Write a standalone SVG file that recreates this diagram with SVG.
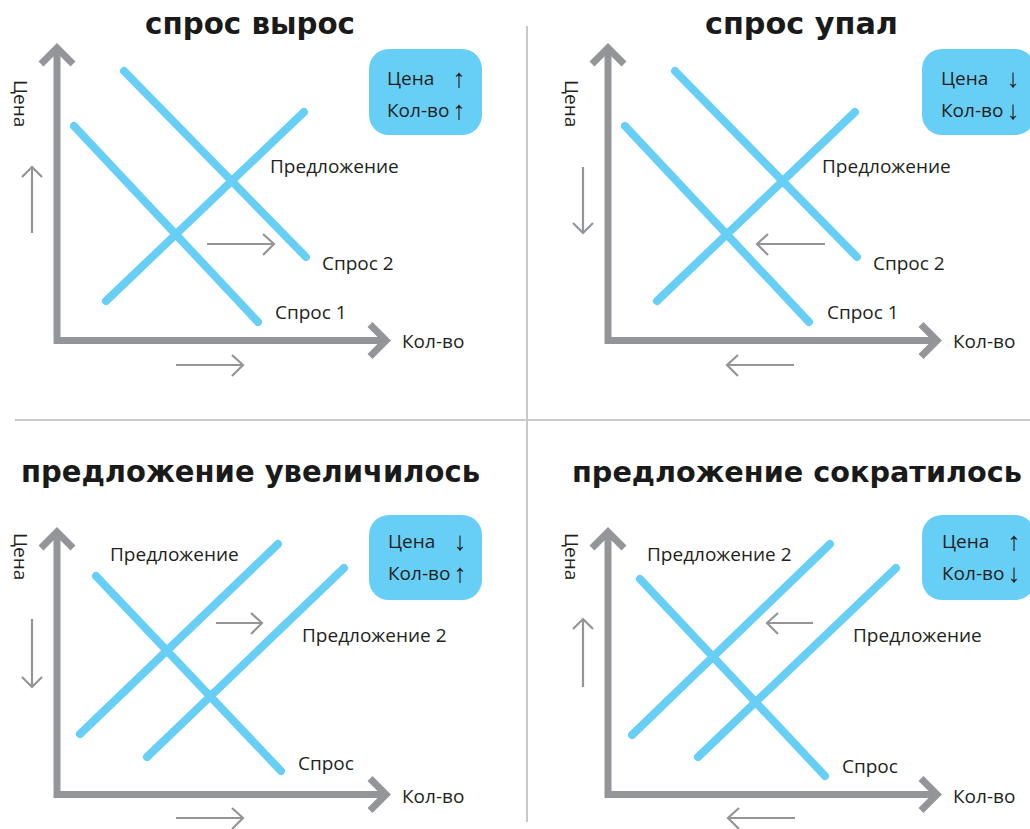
<svg xmlns="http://www.w3.org/2000/svg" width="1030" height="829" viewBox="0 0 1030 829">
<defs>
<style>
.bg{fill:#ffffff}
.div{stroke:#c8c9cb;stroke-width:2;fill:none}
.ax{stroke:#939598;stroke-width:7;fill:none;stroke-linejoin:miter;stroke-linecap:butt}
.sa{stroke:#939598;stroke-width:2.2;fill:none}
.bl{stroke:#67cef5;stroke-width:8;stroke-linecap:round;fill:none}
.box{fill:#67cef5}
.t{font-family:"Open Sans","Noto Sans",sans-serif;font-size:19px;fill:#231f20}
.ar{font-family:"Liberation Sans",sans-serif;font-size:26px;fill:#231f20;text-anchor:middle}
.ttl{font-family:"DejaVu Sans",sans-serif;font-weight:bold;font-size:30px;fill:#1a1a1a}
</style>
</defs>
<rect class="bg" x="0" y="0" width="1030" height="829"/>
<g id="dividers">
<path class="div" d="M527,26 V822"/>
<path class="div" d="M15,420 H1030"/>
</g>

<!-- Panel 1 -->
<g id="panel1">
<text class="ttl" x="145" y="34" textLength="210" lengthAdjust="spacingAndGlyphs">спрос вырос</text>
<g id="p1-axes">
<path class="ax" d="M57,48 V340.5 H386"/>
<path class="ax" d="M41,64 L57,48 L73,64"/>
<path class="ax" d="M370,324.5 L386,340.5 L370,356.5"/>
<text class="t" transform="translate(14,80) rotate(90)">Цена</text>
<text class="t" x="402" y="348">Кол-во</text>
</g>
<g id="p1-curves">
<path class="bl" d="M74,126 L258,322"/>
<path class="bl" d="M124,71 L306,257"/>
<path class="bl" d="M106,301 L304,112"/>
<text class="t" x="270" y="173">Предложение</text>
<text class="t" x="322" y="270">Спрос 2</text>
<text class="t" x="275" y="319">Спрос 1</text>
</g>
<g id="p1-shifts">
<path class="sa" d="M32,233 V167 M22,177 L32,167 L42,177"/>
<path class="sa" d="M176,365 H243 M232,355 L243,365 L232,376"/>
<path class="sa" d="M207,244 H274 M263,234 L274,244 L263,255"/>
</g>
<g id="p1-box">
<rect class="box" x="369" y="49" width="113" height="86" rx="20"/>
<text class="t" x="387" y="85">Цена</text>
<text class="t" x="387" y="117">Кол-во</text>
<text class="ar" x="459" y="87">↑</text>
<text class="ar" x="459" y="119">↑</text>
</g>
</g>

<!-- Panel 2 -->
<g id="panel2">
<text class="ttl" x="705" y="34" textLength="193" lengthAdjust="spacingAndGlyphs">спрос упал</text>
<g id="p2-axes">
<path class="ax" d="M608,48 V340.5 H937"/>
<path class="ax" d="M592,64 L608,48 L624,64"/>
<path class="ax" d="M921,324.5 L937,340.5 L921,356.5"/>
<text class="t" transform="translate(565,80) rotate(90)">Цена</text>
<text class="t" x="953" y="348">Кол-во</text>
</g>
<g id="p2-curves">
<path class="bl" d="M625,126 L809,322"/>
<path class="bl" d="M675,71 L857,257"/>
<path class="bl" d="M657,301 L855,112"/>
<text class="t" x="822" y="173">Предложение</text>
<text class="t" x="873" y="270">Спрос 2</text>
<text class="t" x="827" y="319">Спрос 1</text>
</g>
<g id="p2-shifts">
<path class="sa" d="M583,167 V233 M573,223 L583,233 L593,223"/>
<path class="sa" d="M794,365 H727 M738,355 L727,365 L738,376"/>
<path class="sa" d="M825,244 H757 M768,234 L757,244 L768,255"/>
</g>
<g id="p2-box">
<rect class="box" x="922" y="49" width="113" height="86" rx="20"/>
<text class="t" x="941" y="85">Цена</text>
<text class="t" x="941" y="117">Кол-во</text>
<text class="ar" x="1013" y="87">↓</text>
<text class="ar" x="1013" y="119">↓</text>
</g>
</g>

<!-- Panel 3 -->
<g id="panel3">
<text class="ttl" x="21" y="482" textLength="459" lengthAdjust="spacingAndGlyphs">предложение увеличилось</text>
<g id="p3-axes">
<path class="ax" d="M57,532 V794.5 H386"/>
<path class="ax" d="M41,548 L57,532 L73,548"/>
<path class="ax" d="M370,778.5 L386,794.5 L370,810.5"/>
<text class="t" transform="translate(14,533) rotate(90)">Цена</text>
<text class="t" x="402" y="803">Кол-во</text>
</g>
<g id="p3-curves">
<path class="bl" d="M96,576 L281,771"/>
<path class="bl" d="M80,734 L278,544"/>
<path class="bl" d="M147,757 L344,568"/>
<text class="t" x="110" y="561">Предложение</text>
<text class="t" x="302" y="642">Предложение 2</text>
<text class="t" x="298" y="770">Спрос</text>
</g>
<g id="p3-shifts">
<path class="sa" d="M32,619 V687 M22,677 L32,687 L42,677"/>
<path class="sa" d="M176,818 H243 M232,808 L243,818 L232,829"/>
<path class="sa" d="M216,623 H262 M251,613 L262,623 L251,634"/>
</g>
<g id="p3-box">
<rect class="box" x="369" y="515" width="113" height="85" rx="20"/>
<text class="t" x="388" y="548">Цена</text>
<text class="t" x="388" y="580">Кол-во</text>
<text class="ar" x="460" y="550">↓</text>
<text class="ar" x="460" y="582">↑</text>
</g>
</g>

<!-- Panel 4 -->
<g id="panel4">
<text class="ttl" x="572" y="482" font-size="28" textLength="450" lengthAdjust="spacingAndGlyphs" style="font-size:28px">предложение сократилось</text>
<g id="p4-axes">
<path class="ax" d="M608,532 V794.5 H937"/>
<path class="ax" d="M592,548 L608,532 L624,548"/>
<path class="ax" d="M921,778.5 L937,794.5 L921,810.5"/>
<text class="t" transform="translate(565,533) rotate(90)">Цена</text>
<text class="t" x="953" y="803">Кол-во</text>
</g>
<g id="p4-curves">
<path class="bl" d="M640,579 L825,776"/>
<path class="bl" d="M632,735 L830,544"/>
<path class="bl" d="M698,757 L896,568"/>
<text class="t" x="647" y="561">Предложение 2</text>
<text class="t" x="853" y="642">Предложение</text>
<text class="t" x="842" y="773">Спрос</text>
</g>
<g id="p4-shifts">
<path class="sa" d="M583,687 V619 M573,629 L583,619 L593,629"/>
<path class="sa" d="M795,818 H728 M739,808 L728,818 L739,829"/>
<path class="sa" d="M813,623 H767 M778,613 L767,623 L778,634"/>
</g>
<g id="p4-box">
<rect class="box" x="922" y="515" width="113" height="85" rx="20"/>
<text class="t" x="942" y="548">Цена</text>
<text class="t" x="942" y="580">Кол-во</text>
<text class="ar" x="1014" y="550">↑</text>
<text class="ar" x="1014" y="582">↓</text>
</g>
</g>
</svg>
